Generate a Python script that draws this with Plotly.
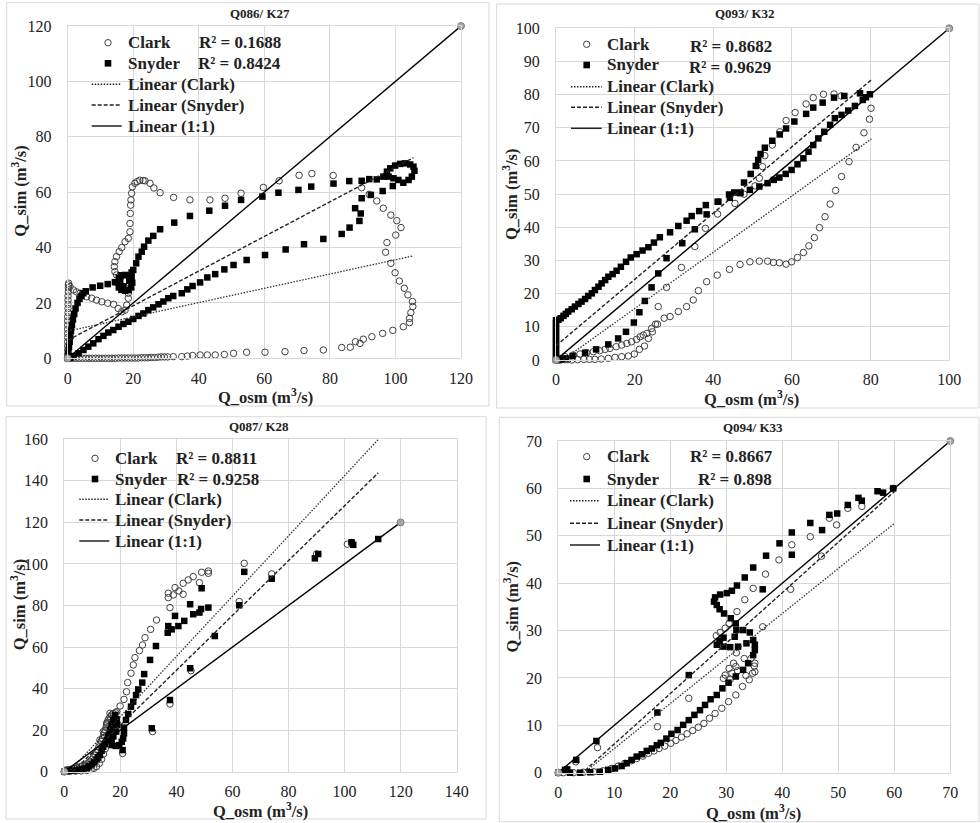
import plotly.graph_objects as go

W, H = 980, 823
FONT = "Liberation Serif"

# ---------------- data ----------------
titles = ["Q086/ K27", "Q093/ K32", "Q087/ K28", "Q094/ K33"]
r2_clark = ["0.1688", "0.8682", "0.8811", "0.8667"]
r2_snyder = ["0.8424", "0.9629", "0.9258", "0.898"]
axis_max = [(120, 120), (100, 100), (140, 160), (70, 70)]
axis_dtick = [(20, 20), (20, 10), (20, 20), (10, 10)]
one_to_one_max = [120, 100, 120, 70]
# linear trend lines (slope, intercept) and x-extent of the data
trend_clark = [(0.258, 9.8), (0.85, -1.5), (1.45, -2.5), (0.95, -4.4)]
trend_snyder = [(0.625, 6.5), (1.0, 4.3), (1.32, -4.0), (1.065, -4.6)]
trend_xmax = [105.5, 80.2, 112.0, 60.0]

p1_clark = [(0,0),(0,1.5),(0,3),(0,4.5),(0,6),(0,7.5),(0,9),(0,10.5),(0,12),(0,13.5),(0,15),(0.1,16.5),(0.1,18),
    (0.1,19.5),(0.1,21),(0.1,22.5),(0.2,24),(0.2,25.5),(0.2,26.5),(0.3,27.1),(0.7,25.9),(1.7,24.7),(2.7,24),(3.8,23.5),
    (5.8,22.2),(7.3,21.7),(8.8,21),(10.4,20.4),(12.2,19.9),(14,19.5),(15.4,18),(16.5,16.8),(17.5,17.4),(18,19.2),
    (18.5,21.7),(18.5,23.5),(17.5,25.5),(16,28.9),(14.9,30.1),(14.4,31.3),(14.2,33.1),(14.4,34.9),(14.9,36.7),
    (15.7,38.5),(16.5,40),(17.5,42.1),(18.5,43.3),(19,45.7),(19,48.7),(19.1,52.3),(19.2,55.3),(19.3,57.2),(19.5,59.6),
    (19.7,61.9),(20.5,63.2),(21.2,63.8),(22,64.3),(23,64.2),(23.6,64.1),(25.1,63.2),(26.3,61.5),(28.2,59.8),(32.3,58.1),
    (37.3,57.2),(43.4,57.2),(48,57.8),(52.9,59.6),(59.7,61.7),(64.5,64.1),(70.6,66.1),(74.5,66.7),(81,66),(89.7,61.6),
    (92,59.2),(94.3,56.8),(96.3,54.2),(98.6,51.7),(100.4,49.7),(101.7,47.2),(100.1,44.5),(97.4,41.8),(97,38.3),
    (98.6,34.3),(99.9,30.9),(101.2,27.9),(102.7,25.3),(103.8,22.9),(105.2,20.5),(105.3,18.7),(104.7,16.5),(104.3,14.4),
    (104.3,12.9),(102.4,11.4),(99.2,10.1),(96.1,9),(92.8,7.8),(90.2,6.9),(89.2,5.4),(87.8,6),(86.2,4),(83.6,3.9),
    (78,3),(72.1,2.8),(66.3,2.4),(60.2,2.2),(54.6,2.2),(50.6,1.8),(47.8,1.4),(45,1.2),(42.6,1.2),(40.4,1.2),(38.1,1),
    (36.5,0.8),(34.8,0.6),(32.2,0.6),(30.5,0.5),(29.5,0.5),(28.5,0.5),(27.5,0.4),(26.5,0.3),(25.5,0.3),(24.5,0.2),
    (23.5,0.2),(22.5,0.2),(21.5,0.1),(20.5,0.1),(19.5,0.1),(18.5,0.1),(17.5,0.1),(16.5,0.1),(15.5,0.1),(14.5,0),
    (13.5,0),(12.5,0),(11.5,0),(10.5,0),(9.5,0),(8.5,0),(7.5,0),(6.5,0),(5.5,0),(4.5,0),(3.5,0),(2.5,0),(1.5,0),(0.8,0)]
p1_snyder = [(0,0),(0.2,2),(0.4,4),(0.6,6),(0.8,8),(1,10),(1.3,12),(1.6,14),(2,16),(2.4,18),(3,20),(3.6,21.5),
    (4.2,22.5),(4.8,23.5),(5.5,24.2),(7.6,25.6),(9.9,26.2),(12.2,26.8),(14.4,27.5),(15.3,27.3),(15.6,29.1),(16.4,30),
    (17.5,30.1),(18.6,29.9),(19.5,29),(19.7,27.3),(19.4,25.6),(18.6,24.6),(17.5,24.4),(16.4,24.7),(15.6,25.6),(16,28),
    (18.8,28),(17,26),(19.5,31),(20,31.9),(20.9,34.3),(21.6,36.7),(22.6,38.5),(23.3,40.3),(24.6,42.5),(26.1,44.2),
    (28.2,46.6),(32.5,49),(37.3,51.4),(43.2,53.3),(48,55.1),(52.9,57.2),(59.4,58.4),(64.3,59.8),(70.4,60.8),(74.3,62),
    (81.1,63.1),(85.9,64),(89.7,64.1),(92,64.7),(94.3,64.6),(96.3,65.6),(97.4,67.4),(98.4,68.6),(99.9,69.6),(101.4,70.2),
    (102.9,70.4),(104.5,70),(105.5,69.2),(105.8,67.7),(105,65.6),(104,64.4),(102.4,63.4),(100.9,64.4),(99.4,65),
    (97.9,65.6),(99.2,62.2),(96.1,60.4),(92.5,59),(89.7,57.8),(87.7,54.2),(89.4,52.3),(89,49.6),(86,47.2),(83.6,44.9),
    (78,43.1),(72.1,41.2),(66.5,39.3),(60.2,37.3),(54.6,35.5),(50.6,33.7),(47.8,32.1),(45,30.4),(42.6,29.2),(40.4,27.4),
    (38.1,26.1),(36.5,24.9),(34.8,23.5),(32.2,22.5),(30.7,21.7),(29.2,20.5),(27.7,19.5),(26.1,18.4),(24.6,17.4),
    (23.1,16.2),(21.6,15.3),(20,14.2),(18.5,13.2),(17,12.4),(15.5,11.4),(13.9,10.2),(12.4,9.3),(10.9,8.1),(9.4,6.9),
    (7.8,5.4),(6.3,4.2),(4.8,3),(3.3,1.8),(1.7,0.8),(0.7,0.2)]

p2_clark = [(0,0),(0.5,0),(1,0),(1.5,0.1),(2.3,0.1),(3,0.1),(4,0),(5.5,0.1),(7.1,0.2),(8.5,0.2),(9.9,0.2),(11.5,0.3),
    (13.3,0.5),(15,0.8),(16.7,1),(18.4,1.2),(19.9,1.8),(21.2,3.2),(22.5,4.2),(23.5,6.5),(24.5,8.5),(25.3,10.8),(26,16.1),
    (28.1,21.9),(31.9,27.9),(35.3,34.2),(38,39.7),(41.1,44),(45.5,47.2),(47.8,50),(50.6,52.5),(51.7,54.8),(52.5,58.3),
    (53.1,61.6),(55,64.8),(56.9,68.8),(58.5,72.2),(60.8,74.6),(63.6,77.2),(65.4,79.1),(68,80.1),(70.7,80.2),(72.5,79.6),
    (80.1,75.9),(79.7,72.6),(78.3,68.5),(76.3,64.1),(74.5,59.8),(72.6,55.3),(71.1,51.1),(69.7,47),(68.4,43.2),(67,39.9),
    (65.7,36.9),(64.3,34.4),(62.9,32.4),(61.4,30.9),(59.9,29.6),(58.5,28.9),(56.8,29.3),(55.3,29.4),(53.8,29.8),
    (51.7,29.8),(49.3,29.6),(46.8,28.8),(44.1,27.3),(41,25.6),(38.3,23.6),(36.2,20.9),(34.9,18.1),(33.2,16.1),
    (31.1,14.6),(29,13.1),(27.5,12.6),(25.8,10.8),(24.3,9.5),(23.1,8),(22.2,7.5),(21.4,7),(20.5,6.2),(19.2,5.5),
    (18,5),(16.7,4.5),(15.3,4),(13.7,3.5),(12.5,3.2),(11.1,2.8),(9.5,2.5),(7.8,2.2),(6.1,1.8),(4.4,1.5),(2.3,1),(1,0.5)]
p2_snyder = [(0,0),(0,1),(0,2),(0,3),(0,4),(0,5),(0,6),(0,7),(0,8),(0,9),(0,10),(0,11),(0,12),(0.6,12.1),(1.2,12.6),
    (1.9,13.3),(2.5,13.9),(3.1,14.6),(4,15.3),(4.8,16.1),(5.7,16.9),(6.5,17.6),(7.4,18.4),(8.2,19.3),(9.1,20.1),
    (9.9,21.1),(10.8,22.1),(11.6,23.1),(12.5,24.1),(13.3,25.1),(14.4,25.9),(15.4,26.9),(16.5,28.1),(17.8,29.6),
    (19,30.9),(20.5,31.9),(22,33),(23.5,34),(24.9,35.4),(26.4,37),(29,38.5),(31.1,40.4),(33.2,42),(34.5,43.4),
    (36.4,44.9),(38.1,46.7),(41.1,47.7),(44,49.9),(45.3,50.5),(46.8,50.3),(47.8,53.5),(49.5,56.1),(50.8,58.5),
    (51.4,60.3),(52,62.1),(53.1,64),(55,66.1),(56.9,68),(58.5,69.8),(60.6,71.9),(63.6,74.2),(65.4,76.1),(67.8,77.6),
    (70.7,79.1),(73.3,79.6),(77.3,80.4),(79.8,80.1),(78.8,79.2),(78,78.4),(76,76.6),(74.3,75.2),(72.6,73.9),(70.9,72.9),
    (69.7,70.9),(68.2,68.8),(66.7,66.8),(65.4,64.8),(64.2,62.8),(62.9,60.8),(61.4,59),(59.9,57.3),(58.4,56.1),(56.8,55),
    (55.4,54.3),(53.8,53.3),(51.7,52.3),(49.3,51.3),(46.9,50.5),(44.2,48.9),(41.3,47.7),(38.3,43.9),(35.3,39.4),
    (32.1,35.2),(28.1,30.7),(26,26.1),(24.3,21.9),(22.6,17.8),(21.2,14.4),(19.8,11.3),(17.8,8.5),(15.8,6.5),(13.3,4.7),
    (10.2,3.2),(7.4,2.2),(4.2,1.2),(2.5,0.5),(1.3,0.2)]

p3_clark = [(0,0),(0.6,0.8),(1.3,0.9),(2,1.1),(2.9,1.3),(3.8,1.6),(4.7,2),(5.6,2.4),(6.5,2.8),(7.4,3.2),(8,3.7),
    (8.6,4.3),(9.2,5),(9.8,5.9),(10.4,6.9),(11,8),(11.5,9.2),(11.9,10.4),(12.3,11.8),(12.7,13.2),(13.2,14.6),(13.6,16),
    (14,17.4),(14.3,18.8),(14.6,20),(14.9,21.3),(15.1,22.5),(15.3,23.6),(15.6,24.7),(16,25.7),(16.4,26.5),(16.8,27.3),
    (17.5,28),(18.3,28.4),(18.7,28.9),(19.9,31.6),(21.3,34.8),(22.2,38.5),(22.6,42.9),(23.8,47.4),(24.6,51.4),
    (25.2,54.9),(26.8,58.3),(27.9,61),(28.8,64.5),(30.8,68.5),(32.9,73),(37.1,83.8),(37.1,85.9),(38.9,85.1),(39.5,88.6),
    (40.9,87),(42.4,90.7),(42.4,85.4),(44.2,92.3),(46,93.9),(48.2,91),(49,96),(51.4,95.5),(51.4,96.6),(64.2,100.3),
    (74,95.2),(90,104.8),(101,109.5),(102.5,110.3),(62.4,81.9),(37.7,79),(45.2,48.6),(37.7,32.6),(31.5,19.3),(20.8,8.8),
    (17.5,24),(17,22),(12.7,15.3),(13.9,19.3),(15.1,23.3),(16.3,28.1),(2,0.2),(4,0.3),(6,0.4),(8,0.6),(9.5,1),
    (10.5,1.6),(11.5,2.5),(12.5,4),(13.3,6),(14,8.5),(14.6,11),(15.3,13.5)]
p3_snyder = [(0,0),(0.8,0.3),(1.7,0.4),(2.6,0.5),(3.5,0.6),(4.4,0.8),(5.3,0.9),(6.2,1.1),(7.1,1.5),(8,1.9),(8.9,2.6),
    (9.8,3.5),(10.7,4.6),(11.5,5.9),(12.1,7),(12.7,8),(13.3,10.1),(13.9,12),(14.5,13.5),(15.1,15.2),(15.7,17.5),
    (16.3,20.1),(16.9,22.6),(17.5,24.8),(18.1,27.3),(18.7,25.2),(18.9,22.5),(18.5,19.3),(17.5,17),(16.9,14.5),
    (16.9,12.8),(18.4,12.4),(19.6,12.8),(20.5,14.4),(21,16),(21.3,18.5),(21.3,21.2),(22,24.9),(22.8,27.8),(23.8,31.3),
    (24.6,33.7),(25.6,36.9),(26.4,39.6),(27.8,42.9),(28.5,47),(30.6,53.8),(32.7,60.5),(36.9,66.9),(37.1,70.1),
    (38.3,68.5),(39.5,75),(40.7,70.1),(42.8,72.6),(44.9,80.6),(46,75.8),(48.2,76.6),(48.8,78.3),(49,88.3),(51.4,79),
    (53.7,65.3),(62.4,80.1),(64.2,96.2),(74,92.9),(89.4,102.7),(90.6,104.8),(102.5,110.4),(103.1,109.2),(112,112),
    (44.9,49.8),(37.7,34.5),(31.2,20.9),(20.8,10.4)]

p4_clark = [(0,0),(0.9,0),(2.7,0),(3.1,2.3),(4.5,0.1),(6.3,0.2),(7,5.3),(8,0.4),(9.5,0.9),(10.7,1.4),(11.9,2),(13,2.5),
    (14,3),(15.1,3.5),(16.1,4.1),(17.1,4.6),(17.7,9.7),(18,5.1),(19,5.6),(20.1,6.2),(21,6.8),(22,7.5),(23,8.2),
    (23.3,15.7),(24,8.9),(25,9.6),(26,10.4),(27,11.5),(28,12.5),(29.2,13.6),(30.4,15),(31.7,16.4),(32.9,18.2),
    (34.1,19.6),(35.1,21.3),(35.1,23.1),(34.4,24.1),(33.2,24.1),(31.7,22.4),(30.7,19.7),(29.5,19.9),(29.8,20.6),
    (30.5,22),(31.3,23.1),(31.8,25.3),(28.9,28),(28.2,28.9),(28.9,29.6),(29.8,30.5),(30.5,31.5),(31.9,34),(33.3,36.5),
    (34.8,38.9),(37,41.9),(39.4,44.9),(41.7,48.1),(45,49.8),(48.4,53.7),(51.7,55.8),(54.2,56.2),(59.8,60),(49.7,52.3),
    (47,45.7),(41.5,38.7),(36.5,30.8),(35,22.5),(34.7,21),(33.5,20.5),(32,21.5),(31,21)]
p4_snyder = [(0,0),(1.2,0.6),(1.6,0.7),(2.1,0),(3.2,2.7),(3.9,0),(5.7,0.1),(6.8,6.7),(7.4,0.2),(8.9,0.6),(10.1,0.9),
    (11.3,1.4),(12.2,2),(13.1,2.7),(14,3.4),(14.9,3.9),(15.8,4.6),(16.7,5.1),(17.6,5.8),(17.7,12.7),(18.3,6.3),
    (19.3,7.2),(20.2,8.2),(21.3,9),(22.3,10.1),(23.3,11.1),(23.3,20.6),(24.3,12.2),(25.3,13.2),(26.2,14.3),(27.2,15.5),
    (28.3,16.4),(29.3,17.8),(30.4,19),(31.7,20.3),(33,21.7),(33.9,23.1),(34.8,24.8),(35.1,25.9),(35.1,27),(34.8,28),
    (34.2,29.6),(33,30.1),(33.6,27.3),(32.1,26.6),(30.7,26.5),(29.5,26.6),(28.3,27),(28.8,27.8),(29.5,28.5),(31.5,28.7),
    (31.8,30.1),(31.7,31.5),(30.8,32.6),(29.6,33.6),(28.8,34.5),(28.3,35.4),(27.8,36.1),(28,37),(28.9,37.6),(30.1,37.9),
    (31,38.4),(31.9,39.5),(33.3,41.2),(34.8,43.3),(36.5,38.7),(37.1,45.8),(39.5,48.4),(41.7,46),(41.7,50.7),(45,52.7),
    (47.1,51.2),(48.4,54.4),(49.8,54.7),(51.7,56.5),(53.6,58),(54.2,57.4),(57,59.4),(58,59.1),(59.8,60)]

clark_sets = [p1_clark, p2_clark, p3_clark, p4_clark]
snyder_sets = [p1_snyder, p2_snyder, p3_snyder, p4_snyder]

# ---------------- layout geometry (window pixels) ----------------
plot_px = [(67.7, 461.0, 26.0, 358.3), (556.0, 949.3, 28.3, 360.0),
           (64.3, 456.7, 439.3, 771.7), (558.3, 950.3, 441.0, 772.7)]
border_px = [(6.7, 489, 2.7, 406), (496.7, 979, 4, 408), (6, 486, 416.7, 819), (499.3, 979, 417.3, 821.7)]
title_px = [(260, 13.3), (745, 13.3), (259.3, 426), (753.3, 427.7)]
xtitle_px = [(265, 396), (751.7, 399), (260, 810), (753.3, 812)]
ytitle_px = [(20, 191.7), (510, 195), (18.3, 605), (511.7, 606.7)]
leg_rows = [[42.7, 63.3, 84.3, 105, 126], [44.3, 65, 86.7, 107.3, 128.3],
            [458.3, 479, 499.3, 520, 541], [456.7, 479, 500.7, 523.3, 545]]
leg_marker_x = [108, 586.7, 95, 586.7]
leg_line_x = [(91.7, 121.7), (571, 601.7), (79.3, 109.3), (570, 600)]
leg_text_x = [126, 605, 113.3, 605]
r2_end_x = [(283.3, 283.3), (774, 772.7), (259.3, 260.7), (775, 774)]
r2_y = [(42.7, 63.3), (46.7, 67.3), (458.3, 479), (456.7, 479)]

DOT = "1.5px,1.5px"
DASH = "4px,2px"

def px(x):
    return x / W

def py(y):
    return 1 - y / H

fig = go.Figure()
shapes = []
annotations = []

for i in range(4):
    xa = "x" if i == 0 else f"x{i+1}"
    ya = "y" if i == 0 else f"y{i+1}"
    cx, cy = zip(*clark_sets[i])
    sx, sy = zip(*snyder_sets[i])
    fig.add_trace(go.Scatter(x=cx, y=cy, mode="markers", xaxis=xa, yaxis=ya, cliponaxis=False,
                             marker=dict(symbol="circle-open", size=6.5, color="#404040", line=dict(width=1))))
    fig.add_trace(go.Scatter(x=sx, y=sy, mode="markers", xaxis=xa, yaxis=ya, cliponaxis=False,
                             marker=dict(symbol="square", size=6.5, color="black")))
    xm = trend_xmax[i]
    a, b = trend_clark[i]
    fig.add_trace(go.Scatter(x=[0, xm], y=[b, a * xm + b], mode="lines", xaxis=xa, yaxis=ya,
                             line=dict(color="#333", width=1.3, dash=DOT)))
    a, b = trend_snyder[i]
    fig.add_trace(go.Scatter(x=[0, xm], y=[b, a * xm + b], mode="lines", xaxis=xa, yaxis=ya,
                             line=dict(color="#222", width=1.4, dash=DASH)))
    m = one_to_one_max[i]
    fig.add_trace(go.Scatter(x=[0, m], y=[0, m], mode="lines+markers", xaxis=xa, yaxis=ya, cliponaxis=False,
                             line=dict(color="black", width=1.4),
                             marker=dict(size=7, color="#a6a6a6", line=dict(color="#808080", width=1))))

    x0, x1, y0, y1 = plot_px[i]
    xmax, ymax = axis_max[i]
    dx, dy = axis_dtick[i]
    common = dict(showgrid=True, gridcolor="#d9d9d9", gridwidth=1, zeroline=False, automargin=False,
                  showline=True, linecolor="#d9d9d9", linewidth=1, mirror=True, ticks="",
                  tickfont=dict(family=FONT, size=16, color="#222"))
    fig.update_layout({
        ("xaxis" if i == 0 else f"xaxis{i+1}"): dict(domain=[px(x0), px(x1)], range=[0, xmax], dtick=dx,
                                                    anchor=ya, ticklabelstandoff=5, **common),
        ("yaxis" if i == 0 else f"yaxis{i+1}"): dict(domain=[py(y1), py(y0)], range=[0, ymax], dtick=dy,
                                                    anchor=xa, ticklabelstandoff=12, **common),
    })

    bx0, bx1, by0, by1 = border_px[i]
    shapes.append(dict(type="rect", xref="paper", yref="paper", x0=px(bx0), x1=px(bx1), y0=py(by1), y1=py(by0),
                       line=dict(color="#d9d9d9", width=1)))

    tx, ty = title_px[i]
    annotations.append(dict(text="<b>" + titles[i] + "</b>", x=px(tx), y=py(ty), xref="paper", yref="paper",
                            showarrow=False, xanchor="center", yanchor="middle",
                            font=dict(family=FONT, size=13, color="#222")))
    tx, ty = xtitle_px[i]
    annotations.append(dict(text="<b>Q_osm (m<sup>3</sup>/s)</b>", x=px(tx), y=py(ty), xref="paper", yref="paper",
                            showarrow=False, xanchor="center", yanchor="middle",
                            font=dict(family=FONT, size=16.5, color="#222")))
    tx, ty = ytitle_px[i]
    annotations.append(dict(text="<b>Q_sim (m<sup>3</sup>/s)</b>", x=px(tx), y=py(ty), xref="paper", yref="paper",
                            showarrow=False, xanchor="center", yanchor="middle", textangle=-90,
                            font=dict(family=FONT, size=16.5, color="#222")))

    # legend
    rows = leg_rows[i]
    mx = leg_marker_x[i]
    r = 3.2
    shapes.append(dict(type="circle", xref="paper", yref="paper", x0=px(mx - r), x1=px(mx + r),
                       y0=py(rows[0] + r), y1=py(rows[0] - r), line=dict(color="#404040", width=1)))
    s = 3.3
    shapes.append(dict(type="rect", xref="paper", yref="paper", x0=px(mx - s), x1=px(mx + s),
                       y0=py(rows[1] + s), y1=py(rows[1] - s), fillcolor="black", line=dict(width=0)))
    lx0, lx1 = leg_line_x[i]
    for k, dash in zip([2, 3, 4], [DOT, DASH, "solid"]):
        shapes.append(dict(type="line", xref="paper", yref="paper", x0=px(lx0), x1=px(lx1),
                           y0=py(rows[k]), y1=py(rows[k]), line=dict(color="#222", width=1.5, dash=dash)))
    labels = ["Clark", "Snyder", "Linear (Clark)", "Linear (Snyder)", "Linear (1:1)"]
    for k, lab in enumerate(labels):
        annotations.append(dict(text="<b>" + lab + "</b>", x=px(leg_text_x[i]), y=py(rows[k]), xref="paper",
                                yref="paper", showarrow=False, xanchor="left", yanchor="middle",
                                font=dict(family=FONT, size=17, color="#222")))
    for k, val in enumerate([r2_clark[i], r2_snyder[i]]):
        annotations.append(dict(text=f"<b>R² = {val}</b>", x=px(r2_end_x[i][k]), y=py(r2_y[i][k]), xref="paper",
                                yref="paper", showarrow=False, xanchor="right", yanchor="middle",
                                font=dict(family=FONT, size=17, color="#222")))

fig.update_layout(width=W, height=H, margin=dict(l=0, r=0, t=0, b=0, pad=0, autoexpand=False), showlegend=False,
                  paper_bgcolor="white", plot_bgcolor="white", shapes=shapes, annotations=annotations)
fig.write_html("out.html")
